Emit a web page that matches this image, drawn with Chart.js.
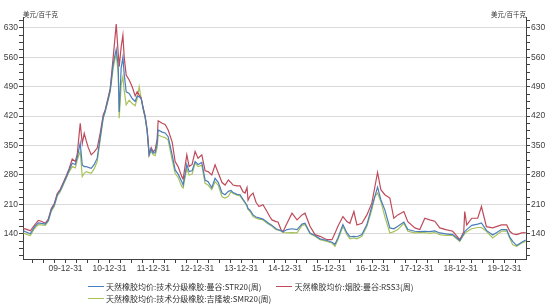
<!DOCTYPE html>
<html>
<head>
<meta charset="utf-8">
<script src="https://cdn.jsdelivr.net/npm/chart.js@4.4.0/dist/chart.umd.min.js"></script>
<style>
  body { margin: 0; background: #fff; }
  #wrap { position: relative; width: 550px; height: 307px; }
  .unit { position: absolute; top: 9px; font: 6.5px "Noto Sans CJK SC"; color: #333; white-space: nowrap; }
  #legend { position: absolute; left: 88px; top: 280px; width: 400px; display: flex; flex-wrap: wrap; font: 8px "Noto Sans CJK SC"; color: #333; }
  #legend .item { display: flex; align-items: center; height: 12px; margin-right: 15px; white-space: nowrap; }
  #legend .line { width: 16px; height: 0; border-top: 1.3px solid; margin-right: 2px; }
</style>
</head>
<body>
<div id="wrap">
  <canvas id="chart" width="550" height="307"></canvas>
  <div class="unit" style="left:23px">美元/百千克</div>
  <div class="unit" style="right:24px">美元/百千克</div>
  <div id="legend"></div>
</div>
<script>
// weekly dates as decimal years
const dates = [2009.038, 2009.129, 2009.197, 2009.288, 2009.379, 2009.447, 2009.538, 2009.606, 2009.675, 2009.743,
  2009.811, 2009.879, 2009.948, 2010.016, 2010.084, 2010.152, 2010.221, 2010.266, 2010.312, 2010.334,
  2010.380, 2010.425, 2010.471, 2010.517, 2010.585, 2010.653, 2010.721, 2010.790, 2010.858, 2010.903,
  2010.972, 2011.017, 2011.085, 2011.154, 2011.199, 2011.222, 2011.267, 2011.306, 2011.336, 2011.381,
  2011.449, 2011.518, 2011.586, 2011.631, 2011.677, 2011.722, 2011.768, 2011.813, 2011.859, 2011.904,
  2011.950, 2011.995, 2012.041, 2012.086, 2012.109, 2012.200, 2012.268, 2012.337, 2012.428, 2012.496,
  2012.564, 2012.648, 2012.678, 2012.762, 2012.815, 2012.883, 2012.951, 2013.019, 2013.104, 2013.179,
  2013.247, 2013.331, 2013.406, 2013.481, 2013.565, 2013.634, 2013.709, 2013.770, 2013.816, 2013.907,
  2013.975, 2014.043, 2014.089, 2014.134, 2014.157, 2014.203, 2014.271, 2014.339, 2014.407, 2014.498,
  2014.589, 2014.658, 2014.703, 2014.794, 2014.840, 2014.908, 2014.954, 2015.045, 2015.159, 2015.273,
  2015.387, 2015.455, 2015.569, 2015.683, 2015.796, 2015.955, 2016.069, 2016.137, 2016.205, 2016.319,
  2016.410, 2016.478, 2016.569, 2016.637, 2016.751, 2016.865, 2016.978, 2017.047, 2017.108, 2017.183,
  2017.274, 2017.388, 2017.479, 2017.570, 2017.707, 2017.798, 2017.957, 2018.071, 2018.184, 2018.298,
  2018.412, 2018.526, 2018.662, 2018.821, 2018.981, 2019.072, 2019.094, 2019.140, 2019.254, 2019.390,
  2019.475, 2019.588, 2019.732, 2019.930, 2020.050, 2020.119, 2020.187, 2020.278, 2020.392, 2020.483];

// 技术分级橡胶 曼谷 STR20
const str20 = [147, 143, 140, 156, 166, 165, 163, 172, 197, 209,
  233, 243, 259, 275, 292, 308, 305, 322, 345, 356,
  304, 300, 300, 298, 296, 305, 320, 370, 418, 432,
  462, 482, 545, 579, 540, 430, 535, 560, 520, 478,
  474, 462, 455, 468, 466, 462, 438, 418, 385, 328,
  342, 332, 333, 355, 387, 382, 380, 371, 328, 292,
  282, 264, 256, 305, 288, 290, 312, 305, 310, 268,
  264, 250, 272, 262, 237, 233, 241, 243, 238, 234,
  233, 222, 215, 208, 200, 196, 185, 180, 178, 175,
  168, 163, 160, 152, 150, 148, 145, 150, 152, 150,
  163, 165, 142, 136, 128, 124, 120, 115, 130, 162,
  142, 133, 134, 133, 138, 162, 205, 229, 251, 221,
  197, 154, 152, 158, 168, 150, 146, 145, 146, 145,
  147, 142, 140, 138, 124, 140, 145, 150, 160, 163,
  166, 148, 137, 150, 150, 132, 122, 112, 120, 125];

// 烟胶 曼谷 RSS3
const rss3 = [153, 150, 147, 160, 172, 170, 165, 175, 200, 212,
  236, 246, 262, 278, 296, 318, 312, 330, 380, 403,
  355, 379, 361, 345, 328, 335, 344, 380, 423, 435,
  465, 486, 560, 639, 570, 538, 585, 613, 560, 518,
  506, 490, 468, 478, 470, 463, 440, 420, 387, 330,
  345, 335, 340, 365, 409, 403, 400, 387, 359, 312,
  300, 276, 270, 328, 300, 305, 336, 320, 328, 290,
  288, 280, 304, 284, 262, 256, 268, 262, 256, 254,
  254, 240, 237, 250, 220, 230, 237, 215, 205, 209,
  193, 180, 173, 169, 168, 150, 145, 165, 189, 173,
  185, 189, 158, 138, 134, 126, 126, 141, 158, 181,
  169, 165, 193, 161, 165, 185, 213, 252, 286, 245,
  233, 225, 177, 185, 193, 169, 154, 150, 177, 173,
  170, 154, 150, 146, 126, 145, 193, 161, 177, 177,
  205, 157, 154, 161, 161, 146, 140, 138, 142, 143];

// 技术分级橡胶 吉隆坡 SMR20
const smr20 = [142, 138, 136, 152, 162, 161, 160, 170, 194, 205,
  230, 240, 256, 272, 288, 300, 297, 315, 330, 336,
  276, 284, 288, 286, 284, 295, 312, 365, 414, 430,
  458, 478, 535, 569, 520, 415, 495, 514, 480, 447,
  458, 450, 445, 462, 490, 463, 436, 416, 383, 326,
  338, 328, 326, 345, 375, 371, 369, 363, 316, 284,
  274, 252, 249, 295, 280, 282, 308, 300, 303, 260,
  256, 245, 264, 255, 228, 225, 229, 240, 236, 232,
  230, 220, 213, 205, 198, 193, 181, 177, 175, 173,
  165, 161, 158, 150, 149, 146, 143, 142, 143, 142,
  160, 162, 140, 134, 126, 122, 118, 110, 126, 158,
  138, 128, 130, 128, 134, 158, 197, 229, 237, 217,
  181, 142, 145, 150, 165, 146, 142, 143, 143, 141,
  143, 138, 136, 136, 122, 137, 140, 145, 152, 155,
  155, 146, 130, 146, 147, 130, 114, 110, 118, 122];

const seriesNames = ['天然橡胶均价:技术分级橡胶:曼谷:STR20(周)', '天然橡胶均价:烟胶:曼谷:RSS3(周)', '天然橡胶均价:技术分级橡胶:吉隆坡:SMR20(周)'];
const seriesColors = ['#4a7ebb', '#bf4a5a', '#a8c25a'];

const yMajor = [140, 210, 280, 350, 420, 490, 560, 630];
const yearEnds = [2010, 2011, 2012, 2013, 2014, 2015, 2016, 2017, 2018, 2019, 2020];

// minor ticks: every 17.5 on y, every quarter on x
const yTicks = [];
for (let v = 87.5; v < 656; v += 17.5) yTicks.push(v);
const xTicks = [];
for (let v = 2009.25; v < 2020.49; v += 0.25) xTicks.push(Math.round(v * 100) / 100);

const isYMajor = v => yMajor.some(m => Math.abs(m - v) < 0.01);
const isXMajor = v => yearEnds.some(m => Math.abs(m - v) < 0.01);

const tickFont = { family: 'Liberation Sans', size: 8.5 };
const textColor = '#404040';
const axisColor = '#404040';

const toPoints = arr => dates.map((d, i) => ({ x: d, y: arr[i] }));
const allSeries = [str20, rss3, smr20];

const ctx = document.getElementById('chart').getContext('2d');
const chart = new Chart(ctx, {
  type: 'line',
  data: {
    datasets: allSeries.map((s, i) => ({
      label: seriesNames[i],
      data: toPoints(s),
      borderColor: seriesColors[i],
      backgroundColor: seriesColors[i],
      borderWidth: 1.2,
      pointRadius: 0,
      tension: 0,
      fill: false
    }))
  },
  options: {
    responsive: false,
    animation: false,
    devicePixelRatio: 1,
    layout: { padding: { top: 17 } },
    plugins: { legend: { display: false }, tooltip: { enabled: false } },
    scales: {
      x: {
        type: 'linear',
        min: 2009.03,
        max: 2020.49,
        afterBuildTicks: s => { s.ticks = xTicks.map(v => ({ value: v })); },
        afterFit: s => { s.height = 48; },
        border: { color: axisColor, width: 1 },
        grid: { drawOnChartArea: false, tickLength: 4, tickColor: axisColor },
        ticks: {
          autoSkip: false, maxRotation: 0, padding: 1, color: textColor, font: tickFont,
          callback: v => {
            if (!isXMajor(v)) return '';
            const yy = String(Math.round(v) - 1).slice(2);
            return yy + '-12-31';
          }
        }
      },
      y: {
        position: 'left',
        min: 80,
        max: 656,
        afterBuildTicks: s => { s.ticks = yTicks.map(v => ({ value: v })); },
        afterFit: s => { s.width = 23; },
        border: { color: axisColor, width: 1 },
        grid: {
          tickLength: 4,
          color: c => (c.tick && isYMajor(c.tick.value)) ? '#d9d9d9' : 'rgba(0,0,0,0)',
          tickColor: axisColor
        },
        ticks: {
          autoSkip: false, padding: 1, color: textColor, font: tickFont,
          callback: v => isYMajor(v) ? String(Math.round(v)) : ''
        }
      },
      y2: {
        position: 'right',
        min: 80,
        max: 656,
        afterBuildTicks: s => { s.ticks = yTicks.map(v => ({ value: v })); },
        afterFit: s => { s.width = 24; },
        border: { color: axisColor, width: 1 },
        grid: { drawOnChartArea: false, tickLength: 4, tickColor: axisColor },
        ticks: {
          autoSkip: false, padding: 1, color: textColor, font: tickFont,
          callback: v => isYMajor(v) ? String(Math.round(v)) : ''
        }
      }
    }
  }
});

// html legend, left aligned like the original
const legend = document.getElementById('legend');
chart.data.datasets.forEach(ds => {
  const item = document.createElement('div');
  item.className = 'item';
  item.innerHTML = '<span class="line" style="border-color:' + ds.borderColor + '"></span><span>' + ds.label + '</span>';
  legend.appendChild(item);
});
</script>
</body>
</html>
